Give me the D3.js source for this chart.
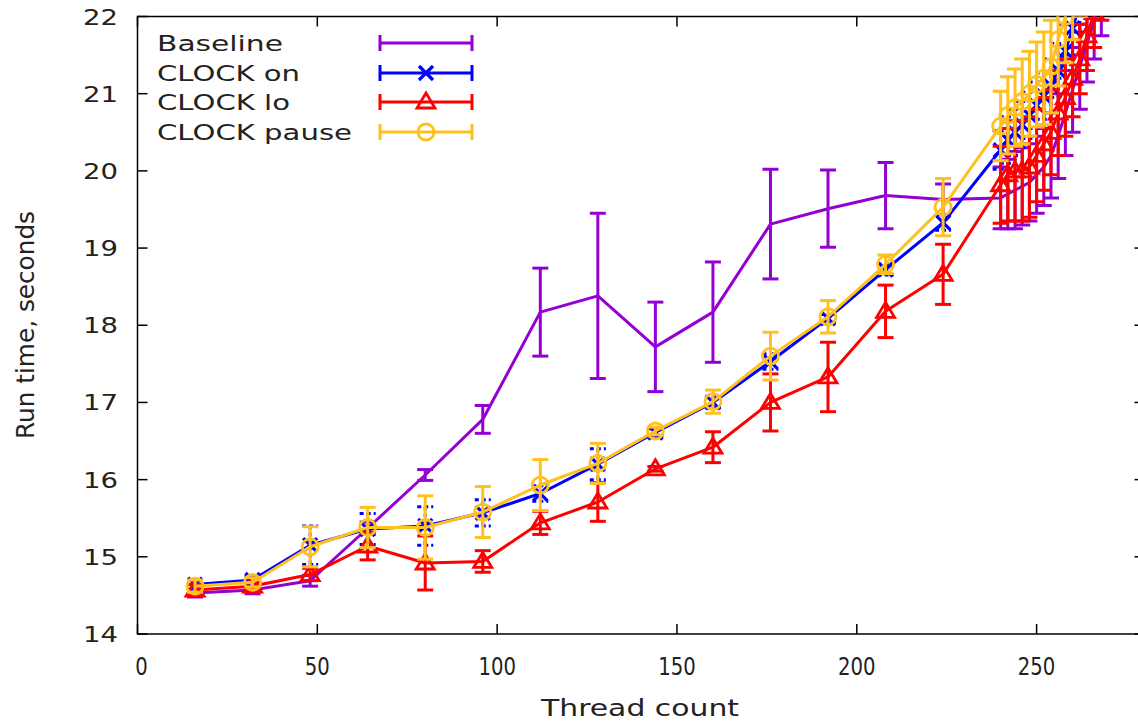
<!DOCTYPE html>
<html><head><meta charset="utf-8">
<script src="https://cdn.jsdelivr.net/npm/d3@7"></script>
<style>body{margin:0;background:#fff}svg{display:block}</style>
</head><body>
<svg id="c" width="1138" height="721"></svg>
<script>
const threads = [16,32,48,64,80,96,112,128,144,160,176,192,208,224,240,242,244,246,248,250,252,254,256,258,260,262,264,266,268];
const baseline = [14.53,14.57,14.69,15.37,16.06,16.78,18.17,18.38,17.72,18.17,19.31,19.51,19.68,19.63,19.65,19.7,19.75,19.8,19.85,19.95,20.05,20.2,20.45,20.75,21.05,21.35,21.65,21.95,22.25];
const baselineErr = [0.05,0.05,0.07,0.08,0.07,0.18,0.57,1.07,0.58,0.65,0.71,0.5,0.43,0.2,0.4,0.45,0.5,0.5,0.5,0.5,0.5,0.55,0.55,0.55,0.55,0.55,0.5,0.5,0.5];
const clockOn = [14.64,14.70,15.15,15.36,15.40,15.57,15.82,16.20,16.61,17.0,17.53,18.09,18.72,19.33,20.27,20.4,20.5,20.6,20.72,20.85,20.97,21.1,21.3,21.55,21.85,22.15,22.5,22.85,23.2];
const clockOnErr = [0.06,0.05,0.25,0.2,0.25,0.17,0.1,0.2,0.05,0.07,0.1,0.05,0.07,0.1,0.25,0.3,0.3,0.3,0.3,0.3,0.3,0.35,0.35,0.35,0.35,0.35,0.35,0.35,0.35];
const clockLo = [14.57,14.62,14.77,15.14,14.92,14.94,15.44,15.71,16.14,16.42,17.0,17.33,18.18,18.66,19.82,19.95,20.0,20.0,20.05,20.2,20.35,20.5,20.75,20.95,21.2,21.45,21.75,22.05,22.4];
const clockLoErr = [0.07,0.05,0.08,0.18,0.35,0.14,0.15,0.25,0.03,0.2,0.37,0.45,0.34,0.39,0.5,0.6,0.65,0.65,0.65,0.6,0.6,0.55,0.55,0.5,0.5,0.45,0.45,0.45,0.45];
const clockPause = [14.62,14.67,15.13,15.38,15.38,15.58,15.93,16.21,16.63,17.01,17.6,18.11,18.79,19.53,20.58,20.72,20.82,20.9,21.0,21.12,21.2,21.35,21.7,22.0,22.3,22.6,22.9,23.2,23.5];
const clockPauseErr = [0.08,0.06,0.26,0.26,0.41,0.33,0.33,0.26,0.05,0.15,0.31,0.21,0.12,0.37,0.45,0.5,0.5,0.55,0.55,0.55,0.6,0.6,0.6,0.6,0.6,0.6,0.6,0.6,0.6];
const seriesNames = ["Baseline","CLOCK on","CLOCK lo","CLOCK pause"];
const xTicks = [0,50,100,150,200,250];
const yTicks = [14,15,16,17,18,19,20,21,22];

const series = [
  {name:seriesNames[0], v:baseline, e:baselineErr, color:"#9400d3", marker:null, dash:null},
  {name:seriesNames[1], v:clockOn, e:clockOnErr, color:"#0000ff", marker:"x", dash:"4,3"},
  {name:seriesNames[2], v:clockLo, e:clockLoErr, color:"#ff0000", marker:"tri", dash:null},
  {name:seriesNames[3], v:clockPause, e:clockPauseErr, color:"#ffc020", marker:"circle", dash:null}
];

const svg = d3.select("#c");
const L = 137.5, R = 1144.5, T = 16.5, B = 634;
const x = d3.scaleLinear().domain([0,280]).range([L,R]);
const y = d3.scaleLinear().domain([14,22]).range([B,T]);

svg.append("defs").append("clipPath").attr("id","clip")
  .append("rect").attr("x",L).attr("y",T).attr("width",R-L).attr("height",B-T);

const ax = svg.append("g").attr("stroke","#000").attr("stroke-width",1.5);
ax.append("path").attr("fill","none").attr("d",`M${R},${T}H${L}V${B}H${R}`);
xTicks.forEach(t=>{
  ax.append("line").attr("x1",x(t)).attr("x2",x(t)).attr("y1",B).attr("y2",B-10);
  ax.append("line").attr("x1",x(t)).attr("x2",x(t)).attr("y1",T).attr("y2",T+10);
});
yTicks.forEach(t=>{
  ax.append("line").attr("x1",L).attr("x2",L+10).attr("y1",y(t)).attr("y2",y(t));
  ax.append("line").attr("x1",R).attr("x2",R-10).attr("y1",y(t)).attr("y2",y(t));
});

const font = "DejaVu Sans, sans-serif";
svg.append("g").selectAll("text").data(yTicks).join("text")
  .attr("x",118).attr("y",d=>y(d)+8).attr("text-anchor","end")
  .attr("font-family",font).attr("font-size",21).attr("fill","#222")
  .attr("textLength",d=>String(d).length*17.5).attr("lengthAdjust","spacingAndGlyphs")
  .text(d=>d);
svg.append("g").selectAll("text").data(xTicks).join("text")
  .attr("x",d=>x(d)+(d===0?4:0)).attr("y",675).attr("text-anchor","middle")
  .attr("font-family",font).attr("font-size",25).attr("fill","#222")
  .attr("textLength",d=>String(d).length*12.5).attr("lengthAdjust","spacingAndGlyphs")
  .text(d=>d);
svg.append("text").attr("x",640).attr("y",716).attr("text-anchor","middle")
  .attr("font-family",font).attr("font-size",23).attr("fill","#222")
  .attr("textLength",198).attr("lengthAdjust","spacingAndGlyphs").text("Thread count");
svg.append("text").attr("transform","translate(34,325) rotate(-90)").attr("text-anchor","middle")
  .attr("font-family",font).attr("font-size",24).attr("fill","#222")
  .attr("textLength",228).attr("lengthAdjust","spacingAndGlyphs").text("Run time, seconds");

function drawMarker(g, type, cx, cy, color){
  if(type==="circle"){
    g.append("circle").attr("cx",cx).attr("cy",cy).attr("r",8).attr("fill","none").attr("stroke",color).attr("stroke-width",2.8);
  } else if(type==="tri"){
    g.append("path").attr("d",`M${cx},${cy-9}L${cx+9},${cy+6}L${cx-9},${cy+6}Z`).attr("fill","none").attr("stroke",color).attr("stroke-width",2.8);
  } else if(type==="x"){
    g.append("path").attr("d",`M${cx-7},${cy-7}L${cx+7},${cy+7}M${cx-7},${cy+7}L${cx+7},${cy-7}`).attr("stroke",color).attr("stroke-width",3.2);
  }
}

const plot = svg.append("g").attr("clip-path","url(#clip)");
const line = d3.line().x((d,i)=>x(threads[i])).y(d=>y(d));
series.forEach(s=>{
  const g = plot.append("g");
  g.append("path").attr("d",line(s.v)).attr("fill","none").attr("stroke",s.color).attr("stroke-width",3).attr("stroke-linejoin","round");
  const eb = g.append("g").attr("stroke",s.color).attr("stroke-width",3).attr("stroke-dasharray",s.dash);
  s.v.forEach((v,i)=>{
    const cx = x(threads[i]), y1 = y(v - s.e[i]), y2 = y(v + s.e[i]);
    eb.append("line").attr("x1",cx).attr("x2",cx).attr("y1",y1).attr("y2",y2);
    eb.append("line").attr("x1",cx-8).attr("x2",cx+8).attr("y1",y1).attr("y2",y1);
    eb.append("line").attr("x1",cx-8).attr("x2",cx+8).attr("y1",y2).attr("y2",y2);
  });
  if(s.marker) s.v.forEach((v,i)=>drawMarker(g, s.marker, x(threads[i]), y(v), s.color));
});

const legRows = [43,73,102,132];
const textLens = [126,143,133,195];
series.forEach((s,i)=>{
  const ly = legRows[i];
  svg.append("text").attr("x",157).attr("y",ly+8).attr("font-family",font).attr("font-size",22).attr("fill","#222")
    .attr("textLength",textLens[i]).attr("lengthAdjust","spacingAndGlyphs").text(s.name);
  const g = svg.append("g");
  g.append("line").attr("x1",380).attr("x2",472).attr("y1",ly).attr("y2",ly).attr("stroke",s.color).attr("stroke-width",3);
  [380,472].forEach(cx=>g.append("line").attr("x1",cx).attr("x2",cx).attr("y1",ly-8).attr("y2",ly+8).attr("stroke",s.color).attr("stroke-width",3));
  if(s.marker) drawMarker(g, s.marker, 426, ly, s.color);
});
</script>
</body></html>
